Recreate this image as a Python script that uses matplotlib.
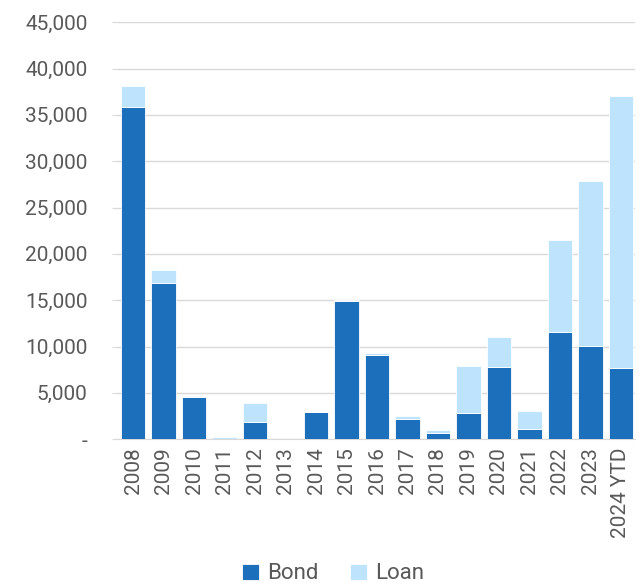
import numpy as np
import matplotlib.pyplot as plt
from matplotlib.ticker import FuncFormatter

plt.rcParams['font.family'] = ['Roboto', 'DejaVu Sans']

# Data
years = ['2008', '2009', '2010', '2011', '2012', '2013', '2014', '2015', '2016',
         '2017', '2018', '2019', '2020', '2021', '2022', '2023', '2024 YTD']
bond = [35900, 16800, 4500, 50, 1900, 0, 2900, 14900, 9100,
        2200, 650, 2800, 7800, 1150, 11600, 10100, 7700]
loan = [2250, 1500, 200, 200, 1950, 0, 50, 150, 250,
        250, 300, 5100, 3200, 1850, 9850, 17800, 29300]

bond_color = '#1b6fbb'
loan_color = '#bde3fd'
text_color = '#595959'

fig = plt.figure(figsize=(6.41, 5.84), dpi=100)
ax = fig.add_axes([0.184, 0.248, 0.806, 0.714])

x = np.arange(len(years))
ax.bar(x, bond, width=0.8, color=bond_color, edgecolor='white', linewidth=0.6, label='Bond', zorder=3)
ax.bar(x, loan, width=0.8, bottom=bond, color=loan_color, edgecolor='white', linewidth=0.6, label='Loan', zorder=3)

ax.set_ylim(0, 45000)
ax.set_yticks(np.arange(0, 45001, 5000))
ax.yaxis.set_major_formatter(FuncFormatter(lambda v, p: '-' if v == 0 else f'{int(v):,}'))
ax.grid(axis='y', color='#d9d9d9', linewidth=1, zorder=0)
ax.set_xlim(-0.5, len(years) - 0.55)
ax.set_xticks(x)
ax.set_xticklabels(years, rotation=90)

for s in ['top', 'right', 'left']:
    ax.spines[s].set_visible(False)
ax.spines['bottom'].set_color('#d9d9d9')
ax.tick_params(axis='y', length=4, color='#d9d9d9', labelsize=15, labelcolor=text_color, pad=18)
ax.tick_params(axis='x', length=0, labelsize=15, labelcolor=text_color, pad=6)

fig.legend(loc='lower center', bbox_to_anchor=(0.52, -0.035), ncol=2, frameon=False,
           fontsize=16, labelcolor=text_color, handlelength=0.75, handleheight=0.75,
           handletextpad=0.4, columnspacing=1.4)

plt.savefig('out.png', dpi=100)
